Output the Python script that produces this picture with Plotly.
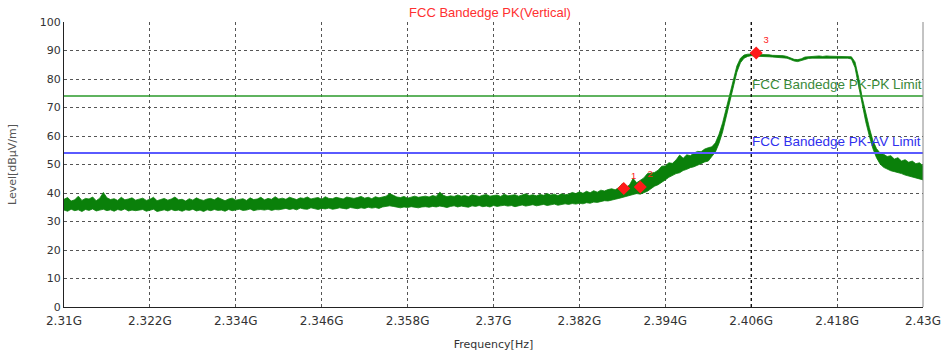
import plotly.graph_objects as go

# ---- data (MHz, dBuV/m) ----
freq_start = 2310.0
freq_step = 0.5

upper = [
 37.8, 38.4, 37.2, 37.6, 38.9, 37.4, 38.1, 37.9, 38.6, 37.3, 38.2, 40.2, 38.3, 37.7, 38.0, 37.4, 38.5, 37.6, 37.9, 38.3, 37.5,
 37.9, 38.2, 37.4, 37.8, 38.5, 37.3, 37.7, 38.1, 37.5, 37.9, 38.6, 37.6, 37.8, 37.2, 38.0, 37.5, 38.3, 37.7, 37.4, 37.9,
 38.1, 37.6, 38.4, 37.8, 37.3, 37.9, 38.2, 37.5, 37.8, 38.0, 37.4, 38.3, 37.7, 37.9, 38.5, 37.6, 38.1, 37.8, 38.7, 37.9,
 38.2, 37.8, 38.5, 38.0, 37.7, 38.3, 38.1, 38.6, 37.9, 38.2, 38.4, 37.8, 38.7, 38.1, 38.0, 38.5, 38.2, 37.9, 38.6, 38.3,
 38.1, 38.4, 38.8, 38.2, 38.5, 38.0, 38.7, 38.3, 38.6, 38.9, 39.8, 39.2, 38.6, 38.4, 38.8, 38.2, 38.6, 38.9, 38.5, 38.7,
 38.9, 38.6, 39.1, 38.8, 40.3, 39.2, 38.7, 39.0, 38.8, 39.3, 38.9, 39.1, 38.7, 39.4, 39.0, 38.8, 39.2, 39.5, 38.9, 39.1,
 39.3, 38.8, 39.6, 39.0, 39.2, 39.4, 38.9, 39.3, 39.7, 39.1, 39.4, 39.0, 39.5, 39.2, 39.8, 39.3, 39.6, 39.1, 39.7, 39.4,
 39.6, 40.2, 39.8, 40.4, 39.9, 40.6, 40.1, 40.8, 40.3, 41.0, 40.7, 41.2, 41.5, 41.1, 41.9, 43.3, 42.0, 42.8, 45.1, 43.6,
 44.6, 45.3, 46.8, 46.9, 47.2, 48.0, 49.4, 49.5, 50.6, 50.4, 51.6, 53.3, 52.2, 53.4, 53.1, 54.0, 54.6, 54.5, 55.4, 55.9,
 56.2, 57.6, 60.6, 64.6, 69.4, 74.4, 79.8, 84.6, 87.3, 88.4, 88.7, 88.8,
 88.8, 88.6, 88.6, 88.4, 88.5, 88.3, 88.3, 88.2, 88.2, 87.9, 87.5, 86.9, 86.8, 87.1, 87.7, 87.8, 88.0, 87.9, 88.1, 87.9,
 88.1, 88.0, 88.0, 88.0, 88.0, 88.0, 87.9, 87.8,
 86.0, 80.6, 73.6, 68.0, 63.0, 58.4, 55.6, 54.0, 53.6, 52.8, 53.1, 51.9, 52.4, 51.2, 51.7, 50.8, 51.2, 50.3, 50.6, 49.6,
]

lower = [
 34.0, 33.6, 34.3, 33.8, 34.1, 33.5, 34.2, 33.9, 34.4, 33.7, 34.0, 34.3, 33.8, 34.1, 33.6, 34.2, 33.9, 34.4, 33.7, 34.0, 33.8,
 33.9, 34.2, 33.6, 34.0, 34.3, 33.5, 33.9, 34.1, 33.7, 34.2, 33.8, 34.0, 33.6, 34.1, 33.9, 34.3, 33.7, 34.0, 33.5, 34.1,
 33.8, 34.2, 33.9, 34.0, 33.6, 34.2, 33.8, 34.1, 34.3, 33.9, 34.0, 34.4, 33.8, 34.1, 34.2, 34.0, 34.3, 33.9, 34.2, 34.1,
 34.3, 34.6, 34.2, 34.5, 34.1, 34.7, 34.4, 34.3, 34.8, 34.5, 34.2, 34.6, 34.4, 34.7, 34.3, 34.5, 34.8, 34.6, 34.4, 34.9,
 34.7, 34.5, 34.8, 34.6, 35.0, 34.7, 34.9, 34.6, 35.1, 35.2, 35.5, 35.3, 35.0, 34.8, 35.1, 34.9, 35.2, 35.0, 34.8, 35.1,
 35.2, 35.0, 35.3, 35.1, 35.4, 35.2, 34.9, 35.3, 35.5, 35.1, 35.4, 35.2, 35.0, 35.5, 35.3, 35.6, 35.2, 35.4, 35.1, 35.6,
 35.3, 35.5, 35.7, 35.4, 35.6, 35.2, 35.5, 35.8, 35.4, 35.6, 35.9, 35.5, 35.7, 36.0, 35.6, 35.8, 36.1, 35.7, 35.9, 36.2,
 36.0, 36.3, 36.1, 36.4, 36.2, 36.6, 36.4, 36.8, 36.7, 37.0, 37.3, 37.2, 37.6, 37.8, 38.1, 38.4, 38.7, 39.0, 39.4, 39.8,
 39.6, 40.1, 40.6, 41.5, 42.4, 42.9, 43.9, 44.6, 45.5, 46.2, 46.8, 47.1, 47.9, 48.3, 48.9, 49.2, 49.9, 50.3, 50.9, 51.2,
 52.8, 54.4, 57.4, 61.4, 66.6, 71.6, 77.2, 82.4, 85.7, 87.3, 87.9, 88.2,
 88.0, 88.0, 87.9, 87.8, 87.8, 87.7, 87.6, 87.6, 87.5, 87.3, 86.8, 86.3, 86.1, 86.5, 87.0, 87.2, 87.3, 87.3, 87.4, 87.3,
 87.4, 87.4, 87.3, 87.4, 87.3, 87.4, 87.3, 87.0,
 84.0, 77.6, 70.6, 65.0, 60.0, 55.6, 52.4, 50.2, 49.0, 48.4, 47.8, 47.5, 47.2, 46.8, 46.3, 46.0, 45.6, 45.3, 45.0, 44.6,
]

freqs = [freq_start + freq_step * i for i in range(len(upper))]

marker_freqs = [2388.2, 2390.5, 2406.7]
marker_levels = [41.6, 42.1, 89.1]
marker_names = ["1", "2", "3"]
marker_line_freq = 2406.0

pk_limit = 74.0
av_limit = 54.0

x_ticks = [2310, 2322, 2334, 2346, 2358, 2370, 2382, 2394, 2406, 2418, 2430]
x_tick_labels = ["2.31G", "2.322G", "2.334G", "2.346G", "2.358G", "2.37G",
                 "2.382G", "2.394G", "2.406G", "2.418G", "2.43G"]
y_ticks = [0, 10, 20, 30, 40, 50, 60, 70, 80, 90, 100]

FONT = "DejaVu Sans, Verdana, sans-serif"
FONT_ARIAL = "Liberation Sans, Arial, sans-serif"
TRACE = "#0a800a"

fig = go.Figure()

fig.add_trace(go.Scatter(x=freqs, y=lower, mode="lines",
                         line=dict(color=TRACE, width=0.8), hoverinfo="skip",
                         showlegend=False))
fig.add_trace(go.Scatter(x=freqs, y=upper, mode="lines", fill="tonexty",
                         fillcolor=TRACE, line=dict(color=TRACE, width=0.8),
                         showlegend=False))

# limit lines
fig.add_trace(go.Scatter(x=[2310, 2430], y=[pk_limit, pk_limit], mode="lines",
                         line=dict(color="#2a9a2a", width=1.5), showlegend=False))
fig.add_trace(go.Scatter(x=[2310, 2430], y=[av_limit, av_limit], mode="lines",
                         line=dict(color="#5a5aff", width=2), showlegend=False))

# marker 3 vertical line
fig.add_trace(go.Scatter(x=[marker_line_freq, marker_line_freq], y=[0, 100], mode="lines",
                         line=dict(color="#000000", width=1.2, dash="dot"), showlegend=False))

# markers
fig.add_trace(go.Scatter(x=marker_freqs, y=marker_levels, mode="markers+text",
                         marker=dict(symbol="diamond", size=10, color="#ff1a1a"),
                         text=marker_names, textposition="top right",
                         textfont=dict(color="#ff2020", size=9.5, family=FONT_ARIAL),
                         showlegend=False))

fig.add_annotation(x=2406, y=pk_limit + 0.6, xref="x", yref="y",
                   text="FCC Bandedge PK-PK Limit", showarrow=False,
                   xanchor="left", yanchor="bottom", xshift=-1,
                   font=dict(color="#3a8a3a", size=13.5, family=FONT_ARIAL))
fig.add_annotation(x=2406, y=av_limit + 0.6, xref="x", yref="y",
                   text="FCC Bandedge PK-AV Limit", showarrow=False,
                   xanchor="left", yanchor="bottom", xshift=-1,
                   font=dict(color="#3030ee", size=13.5, family=FONT_ARIAL))

fig.update_layout(
    width=946, height=356,
    margin=dict(l=64, r=23, t=22, b=49),
    paper_bgcolor="white", plot_bgcolor="white",
    title=dict(text="FCC Bandedge PK(Vertical)", x=0.518, xanchor="center",
               y=1 - 12 / 356, yanchor="middle",
               font=dict(color="#ff3030", size=13, family=FONT_ARIAL)),
    font=dict(family=FONT, size=11, color="#333333"),
    xaxis=dict(range=[2310, 2430], tickvals=x_ticks, ticktext=x_tick_labels,
               showgrid=True, gridcolor="#555555", griddash="dot", gridwidth=1,
               showline=True, linecolor="#222222", linewidth=1, mirror=False,
               ticks="", zeroline=False, ticklabelstandoff=3, automargin=False,
               ticklabeloverflow="allow",
               tickfont=dict(size=12, color="#333333"),
               title=dict(text="Frequency[Hz]", standoff=12,
                          font=dict(size=11, color="#333333"))),
    yaxis=dict(range=[0, 100], tickvals=y_ticks,
               showgrid=True, gridcolor="#555555", griddash="dot", gridwidth=1,
               showline=True, linecolor="#222222", linewidth=1,
               ticks="", zeroline=False, automargin=False,
               tickfont=dict(size=11, color="#333333"),
               title=dict(text="Level[dBµV/m]", standoff=20,
                          font=dict(size=11, color="#555555"))),
)

# right border
fig.add_shape(type="line", xref="paper", yref="paper", x0=1, x1=1, y0=0, y1=1,
              line=dict(color="#888888", width=1))

fig.write_html("out.html", config={"displayModeBar": False},
               post_script="document.body.style.margin='0';document.body.style.overflow='hidden';")
